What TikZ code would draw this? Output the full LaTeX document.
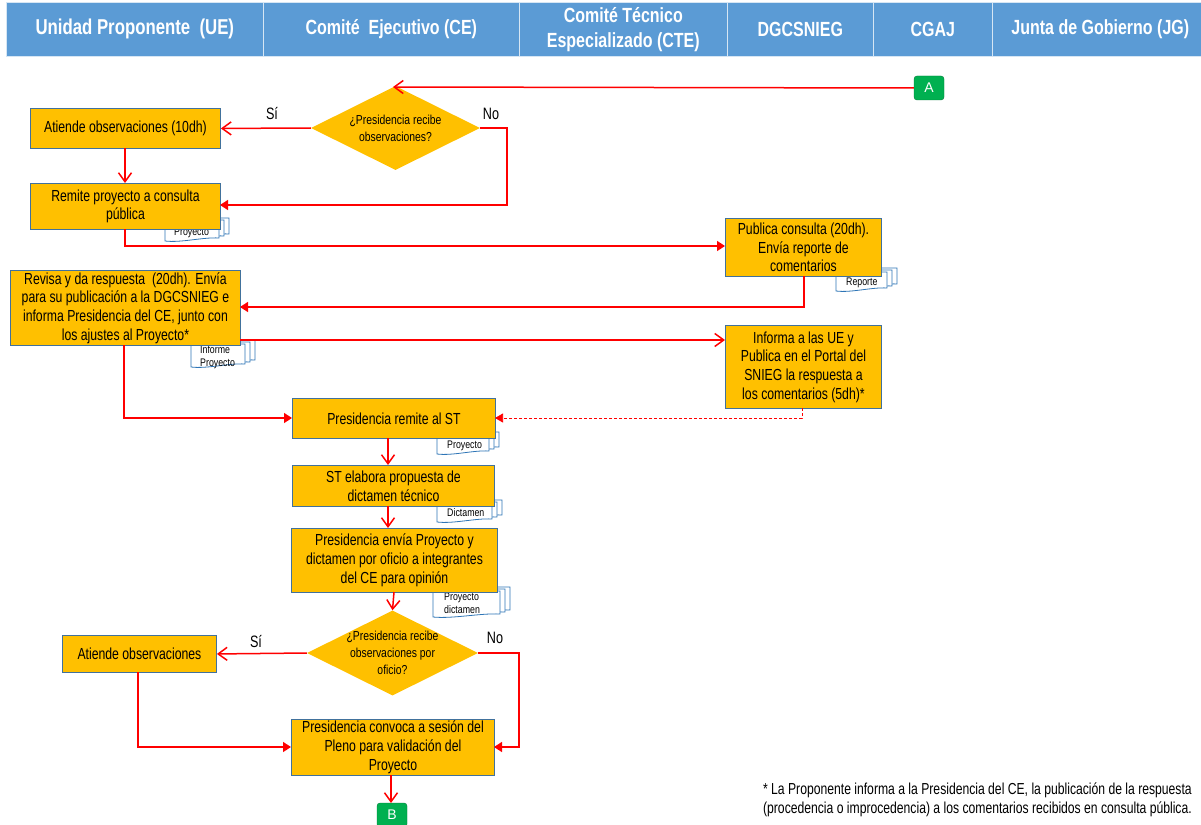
\documentclass[tikz,border=0pt]{standalone}
\usepackage{fontspec}
\setmainfont{Liberation Sans}
\newfontfamily\narrowf[FakeStretch=0.765]{Liberation Sans}
\newfontfamily\smallf[FakeStretch=0.8]{Liberation Sans}
\newfontfamily\headf[FakeStretch=0.78]{Liberation Sans}
\usetikzlibrary{arrows.meta,shapes.geometric,calc}
\definecolor{hdr}{HTML}{5B9BD5}
\definecolor{boxf}{HTML}{FFC000}
\definecolor{boxd}{HTML}{41719C}
\definecolor{grn}{HTML}{00B050}
\definecolor{docd}{HTML}{2E75B6}
\definecolor{redl}{HTML}{FF0000}
\tikzset{
  x=1pt,y=-1pt,
  headcell/.style={fill=hdr,draw=white!75!hdr,line width=0.6pt,text=white,align=center,inner sep=0,anchor=north west,font=\headf\bfseries\fontsize{20.5}{25}\selectfont},
  procbox/.style={fill=boxf,draw=boxd,line width=0.9pt,align=center,inner sep=0,anchor=north west,font=\narrowf\fontsize{16}{18.7}\selectfont},
  decision/.style={diamond,aspect=2,fill=boxf,inner sep=0,align=center,font=\smallf\fontsize{13}{17}\selectfont},
  offpage/.style={fill=grn,draw=grn!70!black,rounded corners=3pt,text=white,inner sep=0,align=center,font=\fontsize{14}{16}\selectfont},
  doclabel/.style={inner sep=0,align=left,anchor=north west,font=\smallf\fontsize{11}{13}\selectfont},
  lbl/.style={inner sep=0,font=\narrowf\fontsize{16.5}{18}\selectfont},
  link/.style={draw=redl,line width=1.5pt},
  barb/.style={link,-{Straight Barb[length=9pt,width=13pt,line width=1.5pt]}},
  solidtip/.style={link,-{Triangle[length=8pt,width=10pt]}},
  dashlink/.style={draw=redl,line width=0.7pt,densely dashed,-{Triangle[length=8pt,width=9pt]}},
  sheet/.style={fill=white,draw=docd,line width=0.8pt},
}
% stack of document sheets: x0,y0,w,h
\newcommand{\docstack}[4]{%
  \foreach \k in {2,1,0}{%
    \path[sheet] ({#1+\k*5},{#2-\k*2}) -- ({#1+\k*5+#3},{#2-\k*2}) -- ({#1+\k*5+#3},{#2-\k*2+#4-3})
      .. controls ({#1+\k*5+#3*0.7},{#2-\k*2+#4-4}) and ({#1+\k*5+#3*0.3},{#2-\k*2+#4+2}) .. ({#1+\k*5},{#2-\k*2+#4}) -- cycle;
  }%
}
\begin{document}
\begin{tikzpicture}
\useasboundingbox (0,0) rectangle (1201,824);
% header
\node[headcell,minimum width=257pt,minimum height=54pt,font=\headf\bfseries\fontsize{21.5}{25}\selectfont] (h1) at (6,2) {Unidad Proponente\ \ (UE)};
\node[headcell,minimum width=256pt,minimum height=54pt] (h2) at (263,2) {Comité\ \ Ejecutivo (CE)};
\node[headcell,minimum width=208pt,minimum height=54pt] (h3) at (519,2) {Comité Técnico\\Especializado (CTE)};
\node[headcell,minimum width=146pt,minimum height=54pt] (h4) at (727,2) {DGCSNIEG};
\node[headcell,minimum width=119pt,minimum height=54pt] (h5) at (873,2) {CGAJ};
\node[headcell,minimum width=209pt,minimum height=54pt] (h6) at (992,2) {\hspace*{7pt}Junta de Gobierno (JG)};
% document stacks
\docstack{165}{222}{54}{19}
\node[doclabel] (d1) at (174,228) {Proyecto};
\docstack{836}{272}{51}{19}
\node[doclabel] (d2) at (846,278) {Reporte};
\docstack{191}{344}{54}{23}
\node[doclabel] (d3) at (200,345) {Informe\\Proyecto};
\docstack{437}{436}{52}{18}
\node[doclabel] (d4) at (447,441) {Proyecto};
\docstack{437}{504}{55}{18}
\node[doclabel] (d5) at (447,508) {Dictamen};
\docstack{433}{591}{67}{26}
\node[doclabel] (d6) at (444,593) {Proyecto\\dictamen};
% boxes
\node[procbox,minimum width=190pt,minimum height=40pt] (atiende) at (30,108) {Atiende observaciones (10dh)};
\node[procbox,minimum width=190pt,minimum height=46pt] (remite) at (30,183) {Remite proyecto a consulta\\pública};
\node[procbox,minimum width=156pt,minimum height=58pt] (publica) at (725,218) {Publica consulta (20dh).\\Envía reporte de\\comentarios};
\node[procbox,minimum width=230pt,minimum height=75pt] (revisa) at (10,270) {Revisa y da respuesta\ \ (20dh). Envía\\para su publicación a la DGCSNIEG e\\informa Presidencia del CE, junto con\\los ajustes al Proyecto*};
\node[procbox,minimum width=156pt,minimum height=83pt] (informa) at (725,325) {Informa a las UE y\\Publica en el Portal del\\SNIEG la respuesta a\\los comentarios (5dh)*};
\node[procbox,minimum width=203pt,minimum height=40pt] (remst) at (292,398) {Presidencia remite al ST};
\node[procbox,minimum width=202pt,minimum height=41pt] (stel) at (292,465) {ST elabora propuesta de\\dictamen técnico};
\node[procbox,minimum width=206pt,minimum height=64pt] (envia) at (291,528) {Presidencia envía Proyecto y\\dictamen por oficio a integrantes\\del CE para opinión};
\node[procbox,minimum width=154pt,minimum height=37pt] (atobs) at (62,635) {Atiende observaciones};
\node[procbox,minimum width=203pt,minimum height=56pt] (convoca) at (291,719) {Presidencia convoca a sesión del\\Pleno para validación del\\Proyecto};
% decisions
\node[decision,minimum width=169pt,minimum height=84pt] (dec1) at (395.5,128) {¿Presidencia recibe\\observaciones?};
\node[decision,inner sep=-3pt,minimum width=171pt,minimum height=85pt] (dec2) at (392.5,653) {¿Presidencia recibe\\observaciones por\\oficio?};
% off-page
\node[offpage,minimum width=30pt,minimum height=24pt] (A) at (929,88) {A};
\node[offpage,minimum width=30pt,minimum height=24pt] (B) at (392,815) {B};
% labels
\node[lbl] (si1) at (272,114) {Sí};
\node[lbl] (no1) at (491,114) {No};
\node[lbl] (si2) at (256,641) {Sí};
\node[lbl] (no2) at (495,638) {No};
\node[inner sep=0,align=left,anchor=north east,font=\narrowf\fontsize{15.9}{18.6}\selectfont] (foot) at (1192,783) {* La Proponente informa a la Presidencia del CE, la publicación de la respuesta\\(procedencia o improcedencia) a los comentarios recibidos en consulta pública.};
% waypoints
\coordinate (c1) at (125,229);
\coordinate (c2) at (125,246);
\coordinate (c3) at (725,246);
\coordinate (c4) at (804,276);
\coordinate (c5) at (804,307);
\coordinate (c6) at (240,307);
\coordinate (c7) at (240,340);
\coordinate (c8) at (725,340);
\coordinate (c9) at (124,345);
\coordinate (c10) at (124,418);
\coordinate (c11) at (292,418);
\coordinate (c12) at (802,408);
\coordinate (c13) at (802,418);
\coordinate (c14) at (495,418);
\coordinate (c15) at (507,128);
\coordinate (c16) at (507,205);
\coordinate (c17) at (220,205);
\coordinate (c18) at (519,653);
\coordinate (c19) at (519,747);
\coordinate (c20) at (494,747);
\coordinate (c21) at (138,672);
\coordinate (c22) at (138,747);
\coordinate (c23) at (291,747);
\coordinate (c24) at (393,87);
\coordinate (c25) at (125,148);
\coordinate (c26) at (125,183);
\coordinate (c27) at (388,438);
\coordinate (c28) at (388,465);
\coordinate (c29) at (388,506);
\coordinate (c30) at (388,528);
\coordinate (c31) at (394,592);
\coordinate (c32) at (391,775);
\coordinate (c33) at (391,803);
% connectors
\draw[barb] (A.west) -- (c24);
\draw[barb] (dec1.west) -- (atiende.east);
\draw[solidtip] (dec1.east) -- (c15) -- (c16) -- (c17);
\draw[barb] (c25) -- (c26);
\draw[solidtip] (c1) -- (c2) -- (c3);
\draw[solidtip] (c4) -- (c5) -- (c6);
\draw[barb] (c7) -- (c8);
\draw[solidtip] (c9) -- (c10) -- (c11);
\draw[dashlink] (c12) -- (c13) -- (c14);
\draw[barb] (c27) -- (c28);
\draw[barb] (c29) -- (c30);
\draw[barb] (c31) -- (dec2.north);
\draw[barb] (dec2.west) -- (atobs.east);
\draw[solidtip] (dec2.east) -- (c18) -- (c19) -- (c20);
\draw[solidtip] (c21) -- (c22) -- (c23);
\draw[barb] (c32) -- (c33);
\end{tikzpicture}
\end{document}
